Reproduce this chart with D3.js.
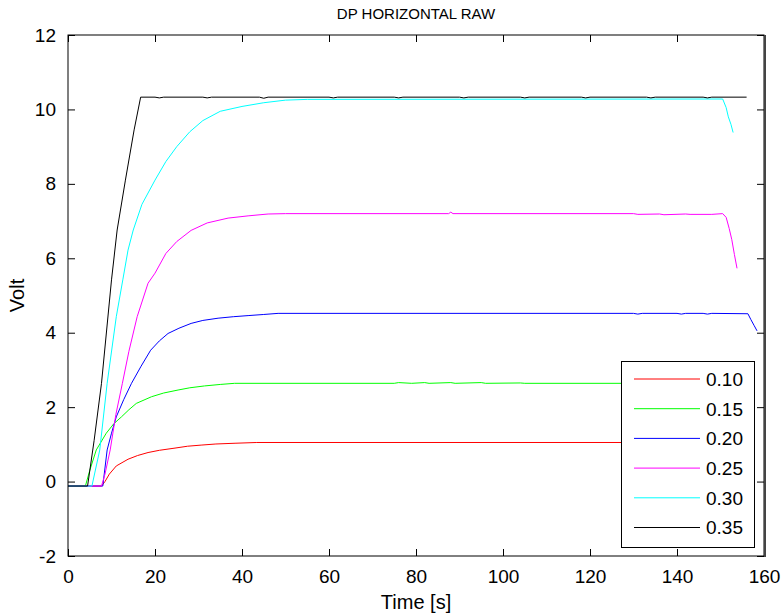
<!DOCTYPE html>
<html lang="en">
<head>
<meta charset="UTF-8">
<script src="https://d3js.org/d3.v7.min.js"></script>
<title>DP HORIZONTAL RAW</title>
<style>
    body { margin: 0; background: #fff; }
    svg { display: block; font-family: 'Liberation Sans', Arial, sans-serif; }
    .tick text { font-size: 19px; fill: #000; }
    .tick line { stroke: #000; }
    .domain { display: none; }
</style>
</head>
<body>
<svg width="784" height="615"></svg>
<script>
    // Series: [time s, volt]
    const s010 = [[0,-0.12],[7.7,-0.12],[8.5,0.0],[9.5,0.2],[11.1,0.42],[13.8,0.6],[16,0.7],[18.4,0.78],[21,0.84],[24.6,0.9],[27.5,0.95],[30.6,0.98],[34,1.01],[38.4,1.03],[43.4,1.05],[150,1.05]];
    const s015 = [[0,-0.12],[4,-0.12],[5,0.3],[6.5,0.85],[8.8,1.3],[10.5,1.55],[12.3,1.74],[14,1.93],[15.7,2.1],[19.2,2.28],[22,2.38],[25.3,2.46],[28,2.52],[31.4,2.57],[35,2.61],[38.3,2.64],[75,2.64],[76,2.66],[79,2.64],[82,2.66],[83,2.64],[88,2.66],[89,2.64],[95,2.66],[96,2.64],[104,2.65],[105,2.64],[150,2.64]];
    const s020 = [[0,-0.12],[8,-0.12],[9,0.85],[10,1.3],[11.1,1.74],[12.8,2.2],[14.6,2.64],[16.8,3.1],[19,3.53],[21,3.78],[23,3.98],[25.5,4.12],[28.3,4.25],[31,4.33],[34.5,4.39],[38,4.43],[41.4,4.46],[45,4.49],[48.3,4.52],[130,4.52],[131,4.5],[132,4.52],[140,4.52],[141,4.5],[142,4.52],[146,4.52],[147,4.5],[148,4.52],[156.3,4.51],[157,4.35],[157.7,4.2],[158.4,4.05]];
    const s025 = [[0,-0.12],[7.7,-0.12],[8.5,0.2],[9.7,0.85],[11,1.8],[12.5,2.64],[14,3.5],[15.9,4.43],[18.4,5.33],[20,5.6],[22.5,6.13],[25,6.45],[28.3,6.75],[32,6.95],[36.8,7.08],[41.4,7.14],[46,7.19],[50,7.2],[87.5,7.2],[88,7.24],[88.5,7.2],[130,7.2],[131,7.18],[136,7.19],[137,7.17],[142,7.19],[143,7.18],[148,7.18],[150.5,7.2],[151.3,7.1],[152,6.8],[152.6,6.5],[153.2,6.1],[153.8,5.73]];
    const s030 = [[0,-0.12],[5.5,-0.12],[7.3,0.85],[9,2.64],[11.1,4.43],[12.6,5.42],[13.8,6.22],[15,6.76],[17,7.45],[20,8.1],[22.5,8.6],[25,9.0],[28,9.4],[31,9.7],[35,9.95],[40,10.08],[45,10.18],[50,10.25],[55,10.27],[150.5,10.28],[151.3,10.05],[151.8,9.8],[152.4,9.6],[152.9,9.38]];
    const s035 = [[0,-0.12],[4.5,-0.12],[6,1.1],[7.7,2.64],[10,5.42],[11.3,6.76],[13.2,8.1],[15.2,9.45],[16.7,10.33],[20,10.33],[21,10.31],[22,10.33],[31,10.33],[32,10.31],[33,10.33],[44,10.33],[45,10.3],[46,10.33],[60,10.33],[61,10.31],[62,10.33],[75,10.33],[76,10.31],[77,10.33],[90,10.33],[91,10.31],[92,10.33],[104,10.33],[105,10.31],[106,10.33],[118,10.33],[119,10.31],[120,10.33],[133,10.33],[134,10.31],[135,10.33],[146,10.33],[147,10.31],[148,10.33],[156,10.33]];

    const labels = ["0.10", "0.15", "0.20", "0.25", "0.30", "0.35"];
    const colors = ["#ff0000", "#00ff00", "#0000ff", "#ff00ff", "#00ffff", "#000000"];
    const series = [s010, s015, s020, s025, s030, s035];

    const xTicks = [0, 20, 40, 60, 80, 100, 120, 140, 160];
    const yTicks = [-2, 0, 2, 4, 6, 8, 10, 12];

    const width = 784, height = 615;
    const margin = { top: 35, right: 20, bottom: 59, left: 68 };

    const svg = d3.select("svg");

    const x = d3.scaleLinear().domain([0, 160]).range([margin.left, width - margin.right]);
    const y = d3.scaleLinear().domain([-2, 12]).range([height - margin.bottom, margin.top]);

    // Lines
    const line = d3.line().x(d => x(d[0])).y(d => y(d[1]));
    svg.append("g").selectAll("path")
        .data(series)
        .enter().append("path")
        .attr("d", line)
        .attr("fill", "none")
        .attr("stroke", (d, i) => colors[i])
        .attr("stroke-width", 1);

    // Axes with inward ticks (bottom, left labelled; top, right bare)
    svg.append("g")
        .attr("transform", `translate(0,${y(-2)})`)
        .call(d3.axisBottom(x).tickValues(xTicks).tickSize(-7).tickPadding(14).tickFormat(d => String(d)));
    svg.append("g")
        .attr("transform", `translate(0,${y(12)})`)
        .call(d3.axisTop(x).tickValues(xTicks).tickSize(-7).tickFormat(""));
    svg.append("g")
        .attr("transform", `translate(${x(0)},0)`)
        .call(d3.axisLeft(y).tickValues(yTicks).tickSize(-7).tickPadding(12).tickFormat(d => String(d)));
    svg.append("g")
        .attr("transform", `translate(${x(160)},0)`)
        .call(d3.axisRight(y).tickValues(yTicks).tickSize(-7).tickFormat(""));

    // Box
    svg.append("rect")
        .attr("x", x(0)).attr("y", y(12))
        .attr("width", x(160) - x(0)).attr("height", y(-2) - y(12))
        .attr("fill", "none").attr("stroke", "#000").attr("stroke-width", 1);
    svg.append("line")
        .attr("x1", x(160) + 1).attr("x2", x(160) + 1)
        .attr("y1", y(12)).attr("y2", y(-2) + 1)
        .attr("stroke", "#444").attr("stroke-width", 2);

    // Labels
    svg.append("text")
        .attr("x", (x(0) + x(160)) / 2).attr("y", 19)
        .attr("text-anchor", "middle").attr("font-size", 15)
        .text("DP HORIZONTAL RAW");
    svg.append("text")
        .attr("x", (x(0) + x(160)) / 2).attr("y", 609)
        .attr("text-anchor", "middle").attr("font-size", 20)
        .text("Time [s]");
    svg.append("text")
        .attr("transform", `translate(24,${(y(12) + y(-2)) / 2}) rotate(-90)`)
        .attr("text-anchor", "middle").attr("font-size", 20)
        .text("Volt");

    // Legend
    const lg = svg.append("g");
    lg.append("rect")
        .attr("x", 621.5).attr("y", 361.5)
        .attr("width", 133).attr("height", 186)
        .attr("fill", "#fff").attr("stroke", "#000");
    const items = lg.selectAll(".item")
        .data(labels)
        .enter().append("g")
        .attr("transform", (d, i) => `translate(0,${379 + i * 29.7})`);
    items.append("line")
        .attr("x1", 634).attr("x2", 700)
        .attr("stroke", (d, i) => colors[i]);
    items.append("text")
        .attr("x", 706).attr("dy", "0.36em")
        .attr("font-size", 19)
        .text(d => d);
</script>
</body>
</html>
